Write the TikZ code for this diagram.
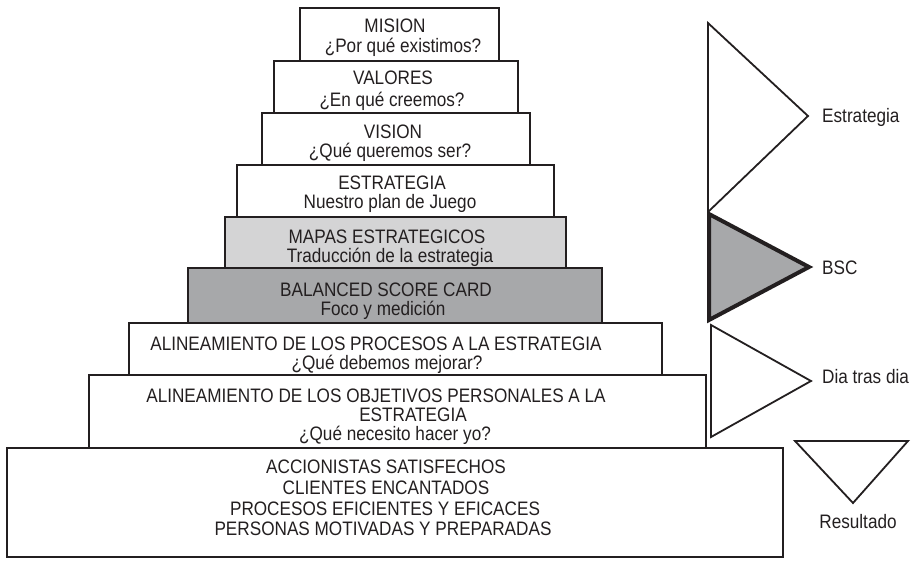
\documentclass[tikz,border=0pt]{standalone}
\usepackage{fontspec}
\setmainfont{Liberation Sans}[FakeStretch=0.88]
\definecolor{ink}{HTML}{231F20}
\definecolor{lightg}{HTML}{D4D4D5}
\definecolor{darkg}{HTML}{A7A8AA}
\begin{document}
\begin{tikzpicture}[x=1pt,y=-1pt,
  font=\fontsize{19.5}{21}\selectfont,
  box/.style={draw=ink, line width=2pt, inner sep=0pt},
  txt/.style={anchor=base, inner sep=0pt, text=ink},
  lbl/.style={anchor=base west, inner sep=0pt, text=ink},
  tri/.style={draw=ink, line width=1.8pt, line join=miter, fill=white}]
\useasboundingbox (0,0) rectangle (911,560);

% pyramid boxes
\node[box, minimum width=776pt, minimum height=109pt] (acc) at (395,502.5) {};
\node[box, minimum width=617pt, minimum height=73pt] (obj) at (397.5,411.5) {};
\node[box, minimum width=533pt, minimum height=52pt] (proc) at (395.5,349) {};
\node[box, fill=darkg, minimum width=414pt, minimum height=55pt] (bsc) at (395,295.5) {};
\node[box, fill=lightg, minimum width=341pt, minimum height=51pt] (mapas) at (395.5,242.5) {};
\node[box, minimum width=317pt, minimum height=52pt] (estr) at (395.5,191) {};
\node[box, minimum width=268pt, minimum height=52pt] (vision) at (396,139) {};
\node[box, minimum width=244pt, minimum height=52pt] (valores) at (396,87) {};
\node[box, minimum width=199pt, minimum height=53pt] (mision) at (399.5,34.5) {};

% texts
\node[txt] (t1a) at (395,32) {MISION};
\node[txt] (t1b) at (403,52) {¿Por qué existimos?};
\node[txt] (t2a) at (393,84) {VALORES};
\node[txt] (t2b) at (392,106) {¿En qué creemos?};
\node[txt] (t3a) at (393,138) {VISION};
\node[txt] (t3b) at (390,157) {¿Qué queremos ser?};
\node[txt] (t4a) at (392,189.5) {ESTRATEGIA};
\node[txt] (t4b) at (390,208.5) {Nuestro plan de Juego};
\node[txt] (t5a) at (387,243) {MAPAS ESTRATEGICOS};
\node[txt] (t5b) at (390,262) {Traducción de la estrategia};
\node[txt] (t6a) at (386,296.5) {BALANCED SCORE CARD};
\node[txt] (t6b) at (383,315.5) {Foco y medición};
\node[txt] (t7a) at (376,350) {ALINEAMIENTO DE LOS PROCESOS A LA ESTRATEGIA};
\node[txt] (t7b) at (387,369) {¿Qué debemos mejorar?};
\node[txt] (t8a) at (376,402) {ALINEAMIENTO DE LOS OBJETIVOS PERSONALES A LA};
\node[txt] (t8b) at (413,421.5) {ESTRATEGIA};
\node[txt] (t8c) at (395,440.5) {¿Qué necesito hacer yo?};
\node[txt] (t9a) at (386,473) {ACCIONISTAS SATISFECHOS};
\node[txt] (t9b) at (386,494) {CLIENTES ENCANTADOS};
\node[txt] (t9c) at (385,515) {PROCESOS EFICIENTES Y EFICACES};
\node[txt] (t9d) at (383,535) {PERSONAS MOTIVADAS Y PREPARADAS};

% side triangles
\draw[tri] (708,23) -- (808,116) -- (708,212) -- cycle;
\draw[tri] (711,325) -- (811,381) -- (711,437) -- cycle;
\draw[tri] (795,441) -- (908,441) -- (853,503) -- cycle;
\draw[tri, fill=darkg, line width=4pt] (709,214) -- (809,267) -- (709,320) -- cycle;

\node[lbl] (lestr) at (822,122) {Estrategia};
\node[lbl] (lbsc) at (822,274) {BSC};
\node[lbl] (ldia) at (822,383) {Dia tras dia};
\node[txt] (lres) at (858,528) {Resultado};
\end{tikzpicture}
\end{document}
